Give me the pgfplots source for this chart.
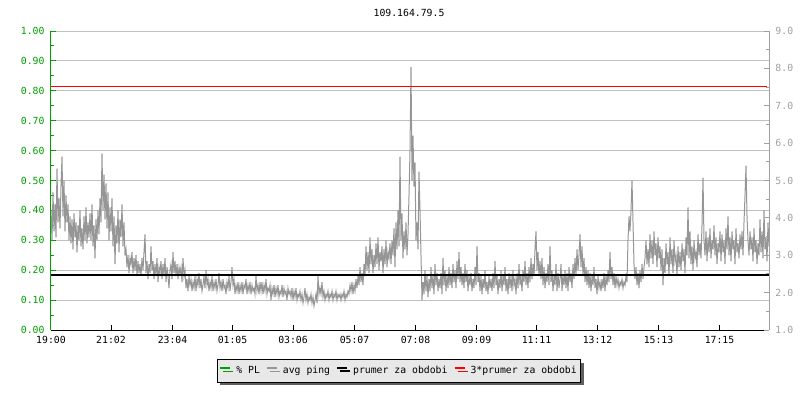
\documentclass[border=0pt]{standalone}
\usepackage{fontspec}
\setmainfont{DejaVu Sans Mono}
\usepackage{pgfplots}
\pgfplotsset{compat=1.18}
\usetikzlibrary{shadows}
\definecolor{plgreen}{RGB}{0,160,0}
\definecolor{pinggray}{RGB}{150,150,150}
\definecolor{gridgray}{RGB}{192,192,192}
\definecolor{axgray}{RGB}{160,160,160}
\definecolor{legfill}{RGB}{232,232,232}
\definecolor{shadowgray}{RGB}{96,96,96}

\begin{document}
\fontsize{9.8}{11}\selectfont
\begin{tikzpicture}[x=1pt,y=1pt]
\path[use as bounding box] (0,0) rectangle (800,400);
\node[font=\fontsize{9.8}{11}\selectfont] at (409,387) {109.164.79.5};
\begin{axis}[
  at={(51pt,70pt)}, anchor=south west,
  scale only axis, width=718pt, height=299pt,
  xmin=0, xmax=1436, ymin=0, ymax=1,
  axis x line*=bottom, axis y line*=left,
  /pgf/number format/assume math mode=true,
  tick align=inside,
  major tick length=5pt, minor tick length=3pt,
  xtick={0,120,243,363,484,607,729,851,971,1093,1215,1337},
  xticklabels={19:00,21:02,23:04,01:05,03:06,05:07,07:08,09:09,11:11,13:12,15:13,17:15},
  xticklabel style={yshift=-3pt},
  xtick style={black, line width=1pt},
  x axis line style={black, line width=1pt},
  ytick={0,0.1,...,1.0},
  minor y tick num=1,
  yticklabel={\pgfmathprintnumber[fixed,fixed zerofill,precision=2]{\tick}},
  yticklabel style={plgreen, xshift=-3pt},
  y axis line style={plgreen, line width=1pt},
  ytick style={plgreen, line width=1pt},
  ymajorgrids, grid style={gridgray, line width=0.9pt},
  ticklabel style={font=\fontsize{9.8}{11}\selectfont},
  legend columns=-1,
  legend style={at={(0.4847,-0.137)}, anchor=center, draw=black, line width=0.8pt,
    fill=legfill, drop shadow={shadow xshift=3pt, shadow yshift=-3pt, fill=shadowgray, opacity=1},
    font=\fontsize{9.8}{11}\selectfont, inner xsep=2pt, inner ysep=5pt,
    /tikz/every odd column/.append style={column sep=3pt},
    /tikz/every even column/.append style={column sep=4pt}},
  legend image code/.code={\draw[#1, line width=2pt] (0pt,2.8pt) -- (10pt,2.8pt);},
]
\addlegendimage{plgreen}
\addlegendentry{\% PL}
\addplot[pinggray, line width=1pt] coordinates {
(0,.40)(2,.30)(4,.46)(6,.33)(8,.42)(10,.31)(12,.54)(14,.36)(16,.44)(18,.34)
(20,.48)(22,.58)(24,.38)(26,.50)(28,.33)(30,.45)(32,.36)(34,.42)(36,.30)(38,.38)
(40,.29)(42,.37)(44,.27)(46,.39)(48,.31)(50,.36)(52,.26)(54,.35)(56,.30)(58,.40)
(60,.28)(62,.34)(64,.27)(66,.38)(68,.30)(70,.41)(72,.29)(74,.36)(76,.31)(78,.39)
(80,.30)(82,.42)(84,.28)(86,.35)(88,.24)(90,.37)(92,.30)(94,.40)(96,.32)(98,.44)
(100,.36)(102,.59)(104,.40)(106,.52)(108,.37)(110,.49)(112,.34)(114,.46)(116,.30)(118,.41)
(120,.33)(122,.44)(124,.28)(126,.38)(128,.22)(130,.35)(132,.29)(134,.40)(136,.26)(138,.37)
(140,.31)(142,.42)(144,.28)(146,.36)(148,.25)(150,.27)(152,.21)(154,.25)(156,.19)(158,.24)
(160,.22)(162,.26)(164,.19)(166,.24)(168,.20)(170,.25)(172,.18)(174,.23)(176,.19)(178,.22)
(180,.18)(182,.24)(184,.20)(186,.26)(188,.32)(190,.19)(192,.23)(194,.17)(196,.22)(198,.19)
(200,.28)(202,.20)(204,.23)(206,.17)(208,.22)(210,.18)(212,.24)(214,.16)(216,.21)(218,.19)
(220,.23)(222,.17)(224,.22)(226,.18)(228,.24)(230,.16)(232,.21)(234,.18)(236,.14)(238,.20)
(240,.22)(242,.17)(244,.26)(246,.19)(248,.23)(250,.18)(252,.22)(254,.17)(256,.21)(258,.19)
(260,.21)(262,.16)(264,.24)(266,.18)(268,.20)(270,.14)(272,.17)(274,.13)(276,.18)(278,.15)
(280,.17)(282,.13)(284,.16)(286,.14)(288,.18)(290,.13)(292,.17)(294,.15)(296,.19)(298,.14)
(300,.17)(302,.13)(304,.15)(306,.18)(308,.14)(310,.20)(312,.15)(314,.17)(316,.13)(318,.16)
(320,.14)(322,.18)(324,.13)(326,.16)(328,.14)(330,.17)(332,.13)(334,.15)(336,.19)(338,.14)
(340,.16)(342,.13)(344,.17)(346,.14)(348,.15)(350,.12)(352,.16)(354,.14)(356,.18)(358,.13)
(360,.16)(362,.21)(364,.15)(366,.17)(368,.12)(370,.15)(372,.13)(374,.16)(376,.12)(378,.15)
(380,.13)(382,.16)(384,.12)(386,.15)(388,.14)(390,.17)(392,.12)(394,.15)(396,.13)(398,.16)
(400,.12)(402,.15)(404,.13)(406,.14)(408,.12)(410,.18)(412,.13)(414,.15)(416,.12)(418,.16)
(420,.13)(422,.16)(424,.12)(426,.15)(428,.13)(430,.17)(432,.12)(434,.14)(436,.13)(438,.15)
(440,.10)(442,.14)(444,.12)(446,.15)(448,.11)(450,.14)(452,.12)(454,.15)(456,.11)(458,.13)
(460,.12)(462,.15)(464,.11)(466,.14)(468,.12)(470,.13)(472,.10)(474,.14)(476,.12)(478,.13)
(480,.11)(482,.14)(484,.10)(486,.13)(488,.11)(490,.14)(492,.10)(494,.12)(496,.11)(498,.13)
(500,.10)(502,.12)(504,.09)(506,.11)(508,.14)(510,.10)(512,.12)(514,.09)(516,.11)(518,.10)
(520,.12)(522,.09)(524,.11)(526,.08)(528,.10)(530,.12)(532,.09)(534,.18)(536,.12)(538,.14)
(540,.12)(542,.16)(544,.11)(546,.13)(548,.10)(550,.12)(552,.11)(554,.13)(556,.10)(558,.12)
(560,.11)(562,.13)(564,.10)(566,.12)(568,.11)(570,.13)(572,.10)(574,.12)(576,.11)(578,.12)
(580,.10)(582,.12)(584,.11)(586,.13)(588,.10)(590,.12)(592,.11)(594,.13)(596,.12)(598,.15)
(600,.13)(602,.16)(604,.12)(606,.15)(608,.13)(610,.17)(612,.14)(614,.18)(616,.15)(618,.21)
(620,.16)(622,.19)(624,.15)(626,.22)(628,.18)(630,.28)(632,.20)(634,.26)(636,.19)(638,.31)
(640,.22)(642,.27)(644,.19)(646,.25)(648,.21)(650,.29)(652,.22)(654,.31)(656,.20)(658,.26)
(660,.23)(662,.28)(664,.19)(666,.27)(668,.22)(670,.30)(672,.21)(674,.26)(676,.24)(678,.29)
(680,.22)(682,.30)(684,.25)(686,.34)(688,.21)(690,.36)(692,.27)(694,.40)(696,.28)(698,.58)
(700,.30)(702,.39)(704,.24)(706,.33)(708,.27)(710,.36)(712,.25)(714,.32)(716,.45)(718,.60)
(720,.88)(722,.50)(724,.65)(726,.48)(728,.56)(730,.30)(732,.36)(734,.27)(736,.53)(738,.40)
(740,.25)(742,.10)(744,.16)(746,.12)(748,.20)(750,.13)(752,.18)(754,.11)(756,.17)(758,.13)
(760,.21)(762,.14)(764,.18)(766,.12)(768,.22)(770,.15)(772,.19)(774,.13)(776,.17)(778,.14)
(780,.19)(782,.12)(784,.24)(786,.15)(788,.20)(790,.13)(792,.18)(794,.14)(796,.21)(798,.15)
(800,.19)(802,.14)(804,.22)(806,.16)(808,.20)(810,.14)(812,.23)(814,.17)(816,.26)(818,.16)
(820,.21)(822,.15)(824,.19)(826,.14)(828,.22)(830,.16)(832,.20)(834,.13)(836,.18)(838,.15)
(840,.19)(842,.13)(844,.17)(846,.14)(848,.21)(850,.15)(852,.28)(854,.16)(856,.19)(858,.13)
(860,.18)(862,.12)(864,.17)(866,.14)(868,.20)(870,.13)(872,.16)(874,.12)(876,.18)(878,.14)
(880,.17)(882,.13)(884,.19)(886,.14)(888,.23)(890,.15)(892,.18)(894,.12)(896,.17)(898,.14)
(900,.20)(902,.13)(904,.18)(906,.15)(908,.21)(910,.13)(912,.17)(914,.12)(916,.19)(918,.14)
(920,.18)(922,.13)(924,.20)(926,.15)(928,.17)(930,.12)(932,.19)(934,.14)(936,.22)(938,.15)
(940,.18)(942,.13)(944,.20)(946,.16)(948,.23)(950,.15)(952,.19)(954,.14)(956,.21)(958,.16)
(960,.24)(962,.17)(964,.22)(966,.18)(968,.27)(970,.33)(972,.20)(974,.26)(976,.18)(978,.23)
(980,.17)(982,.24)(984,.15)(986,.21)(988,.14)(990,.19)(992,.16)(994,.22)(996,.15)(998,.28)
(1000,.16)(1002,.20)(1004,.13)(1006,.18)(1008,.15)(1010,.22)(1012,.13)(1014,.19)(1016,.14)(1018,.17)
(1020,.22)(1022,.13)(1024,.18)(1026,.15)(1028,.20)(1030,.14)(1032,.19)(1034,.13)(1036,.21)(1038,.16)
(1040,.19)(1042,.14)(1044,.22)(1046,.17)(1048,.24)(1050,.18)(1052,.27)(1054,.20)(1056,.25)(1058,.32)
(1060,.21)(1062,.28)(1064,.18)(1066,.24)(1068,.16)(1070,.21)(1072,.15)(1074,.20)(1076,.14)(1078,.19)
(1080,.13)(1082,.18)(1084,.15)(1086,.21)(1088,.14)(1090,.17)(1092,.12)(1094,.18)(1096,.14)(1098,.16)
(1100,.13)(1102,.17)(1104,.14)(1106,.19)(1108,.13)(1110,.18)(1112,.15)(1114,.20)(1116,.16)(1118,.26)
(1120,.17)(1122,.21)(1124,.15)(1126,.19)(1128,.14)(1130,.18)(1132,.15)(1134,.17)(1136,.14)(1138,.16)
(1140,.15)(1142,.17)(1144,.14)(1146,.16)(1148,.15)(1150,.18)(1152,.16)(1154,.30)(1156,.38)(1158,.33)
(1160,.40)(1162,.50)(1164,.36)(1166,.22)(1168,.17)(1170,.21)(1172,.15)(1174,.19)(1176,.14)(1178,.20)
(1180,.16)(1182,.22)(1184,.17)(1186,.21)(1188,.24)(1190,.30)(1192,.22)(1194,.27)(1196,.21)(1198,.32)
(1200,.24)(1202,.30)(1204,.22)(1206,.33)(1208,.25)(1210,.29)(1212,.21)(1214,.31)(1216,.24)(1218,.28)
(1220,.20)(1222,.27)(1224,.15)(1226,.24)(1228,.19)(1230,.29)(1232,.22)(1234,.26)(1236,.18)(1238,.31)
(1240,.22)(1242,.27)(1244,.19)(1246,.30)(1248,.23)(1250,.25)(1252,.18)(1254,.28)(1256,.21)(1258,.26)
(1260,.20)(1262,.29)(1264,.23)(1266,.27)(1268,.19)(1270,.31)(1272,.25)(1274,.41)(1276,.24)(1278,.33)
(1280,.22)(1282,.28)(1284,.20)(1286,.30)(1288,.24)(1290,.26)(1292,.21)(1294,.32)(1296,.25)(1298,.29)
(1300,.24)(1302,.35)(1304,.51)(1306,.30)(1308,.25)(1310,.33)(1312,.23)(1314,.31)(1316,.26)(1318,.34)
(1320,.24)(1322,.30)(1324,.27)(1326,.35)(1328,.25)(1330,.31)(1332,.22)(1334,.29)(1336,.26)(1338,.33)
(1340,.23)(1342,.32)(1344,.26)(1346,.30)(1348,.22)(1350,.34)(1352,.27)(1354,.38)(1356,.25)(1358,.31)
(1360,.23)(1362,.33)(1364,.27)(1366,.30)(1368,.22)(1370,.34)(1372,.26)(1374,.29)(1376,.24)(1378,.32)
(1380,.27)(1382,.33)(1384,.25)(1386,.36)(1388,.45)(1390,.55)(1392,.38)(1394,.30)(1396,.25)(1398,.33)
(1400,.27)(1402,.31)(1404,.23)(1406,.34)(1408,.26)(1410,.30)(1412,.22)(1414,.29)(1416,.25)(1418,.37)
(1420,.26)(1422,.33)(1424,.24)(1426,.40)(1428,.27)(1430,.31)(1432,.23)(1434,.36)(1436,.28)
};
\addlegendentry{avg ping}
\addplot[black, line width=2pt] coordinates {(0,0.184) (1436,0.184)};
\addlegendentry{prumer za obdobi}
\addplot[red, line width=1.2pt] coordinates {(0,0.814) (1432,0.814)};
\addlegendentry{3*prumer za obdobi}
\end{axis}
\begin{axis}[
  at={(51pt,70pt)}, anchor=south west,
  scale only axis, width=718pt, height=299pt,
  xmin=0, xmax=1436, ymin=1, ymax=9,
  axis y line*=right, axis x line=none,
  /pgf/number format/assume math mode=true,
  tick align=inside,
  major tick length=5pt, minor tick length=3pt,
  ytick={1,2,...,9},
  minor y tick num=1,
  yticklabel={\pgfmathprintnumber[fixed,fixed zerofill,precision=1]{\tick}},
  yticklabel style={axgray, xshift=3pt, font=\fontsize{9.8}{11}\selectfont},
  y axis line style={axgray, line width=1pt},
  ytick style={axgray, line width=1pt},
]
\addplot[draw=none] coordinates {(0,1)};
\end{axis}
\end{tikzpicture}
\end{document}
